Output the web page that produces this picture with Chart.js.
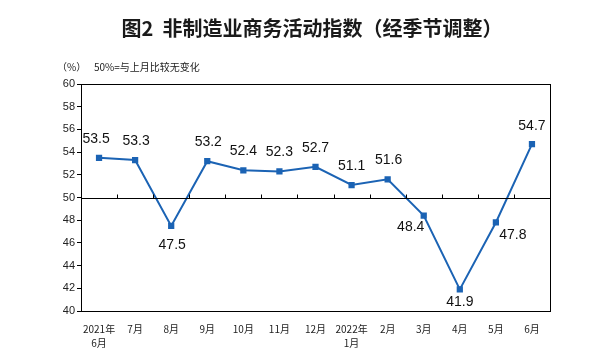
<!DOCTYPE html>
<html>
<head>
<meta charset="utf-8">
<script src="https://cdn.jsdelivr.net/npm/chart.js@4"></script>
<style>
  html, body { margin: 0; padding: 0; background: #fff; }
  #wrap { width: 602px; height: 353px; }
</style>
</head>
<body>
<div id="wrap"><canvas id="c" width="602" height="353"></canvas></div>
<script>
// 数据
const months = [["2021年", "6月"], "7月", "8月", "9月", "10月", "11月", "12月", ["2022年", "1月"], "2月", "3月", "4月", "5月", "6月"];
const pmiValues = [53.5, 53.3, 47.5, 53.2, 52.4, 52.3, 52.7, 51.1, 51.6, 48.4, 41.9, 47.8, 54.7];
const yTicks = [40, 42, 44, 46, 48, 50, 52, 54, 56, 58, 60];

// 标签偏移 (dx, dy) 相对数据点
const labelOffsets = [
  [-3, -19], [1, -19], [1, 19], [1, -19], [0, -19], [0, -19], [0, -19],
  [0, -19], [1, -19], [-13, 11], [0, 13], [17, 13], [0, -18]
];

const fontCN = "'Noto Sans CJK SC', 'Liberation Sans', sans-serif";

const extras = {
  id: 'extras',
  afterDatasetsDraw(chart) {
    const ctx = chart.ctx;
    const area = chart.chartArea;
    const y = chart.scales.y;
    ctx.save();
    ctx.strokeStyle = '#000';
    ctx.lineWidth = 1;
    // 外框
    const L = Math.round(area.left) + 0.5, R = Math.round(area.right) + 0.5;
    const T = Math.round(area.top) + 0.5, B = Math.round(area.bottom) + 0.5;
    ctx.strokeRect(L, T, R - L, B - T);
    // 50 基准线
    const y50 = Math.round(y.getPixelForValue(50)) + 0.5;
    ctx.beginPath();
    ctx.moveTo(area.left, y50);
    ctx.lineTo(area.right, y50);
    // 分类刻度线（向上）
    const step = (area.right - area.left) / months.length;
    for (let i = 1; i < months.length; i++) {
      const px = Math.round(area.left + step * i) + 0.5;
      ctx.moveTo(px, y50);
      ctx.lineTo(px, y50 - 4);
    }
    ctx.stroke();

    // 数值标签
    ctx.fillStyle = '#111';
    ctx.font = "14px 'Liberation Sans', Arial, sans-serif";
    ctx.textAlign = 'center';
    ctx.textBaseline = 'middle';
    const meta = chart.getDatasetMeta(0);
    meta.data.forEach((pt, i) => {
      const off = labelOffsets[i];
      ctx.fillText(pmiValues[i].toFixed(1), pt.x + off[0], pt.y + off[1]);
    });

    // 标题
    ctx.fillStyle = '#1a1a1a';
    ctx.font = "bold 20px " + fontCN;
    ctx.fillText('图2  非制造业商务活动指数（经季节调整）', 312, 28);

    // 单位说明
    ctx.fillStyle = '#222';
    ctx.font = "10px " + fontCN;
    ctx.textAlign = 'left';
    ctx.fillText('（%）', 57, 67);
    ctx.fillText('50%=与上月比较无变化', 94, 67);
    ctx.restore();
  }
};

new Chart(document.getElementById('c'), {
  type: 'line',
  data: {
    labels: months,
    datasets: [{
      data: pmiValues,
      borderColor: '#1b63b4',
      backgroundColor: '#1b63b4',
      borderWidth: 2,
      pointStyle: 'rect',
      pointRadius: 3,
      pointHoverRadius: 3,
      tension: 0,
      fill: false
    }]
  },
  plugins: [extras],
  options: {
    responsive: false,
    animation: false,
    layout: { padding: { left: 0, right: 52, top: 84, bottom: 0 } },
    plugins: {
      legend: { display: false },
      tooltip: { enabled: false },
      title: { display: false }
    },
    scales: {
      x: {
        offset: true,
        grid: { display: false, offset: true },
        border: { display: true, color: '#000', width: 1 },
        ticks: {
          color: '#222',
          font: { family: fontCN, size: 10, lineHeight: 1.4 },
          maxRotation: 0,
          autoSkip: false,
          padding: 3
        }
      },
      y: {
        min: 40,
        max: 60,
        afterBuildTicks(axis) { axis.ticks = yTicks.map(v => ({ value: v })); },
        grid: { drawOnChartArea: false, drawTicks: true, tickLength: 4, color: '#000' },
        border: { display: true, color: '#000', width: 1 },
        ticks: {
          color: '#222',
          font: { family: "'Liberation Sans', Arial, sans-serif", size: 11 },
          padding: 2
        },
        afterFit(axis) { axis.width = 81; }
      }
    }
  }
});
</script>
</body>
</html>
